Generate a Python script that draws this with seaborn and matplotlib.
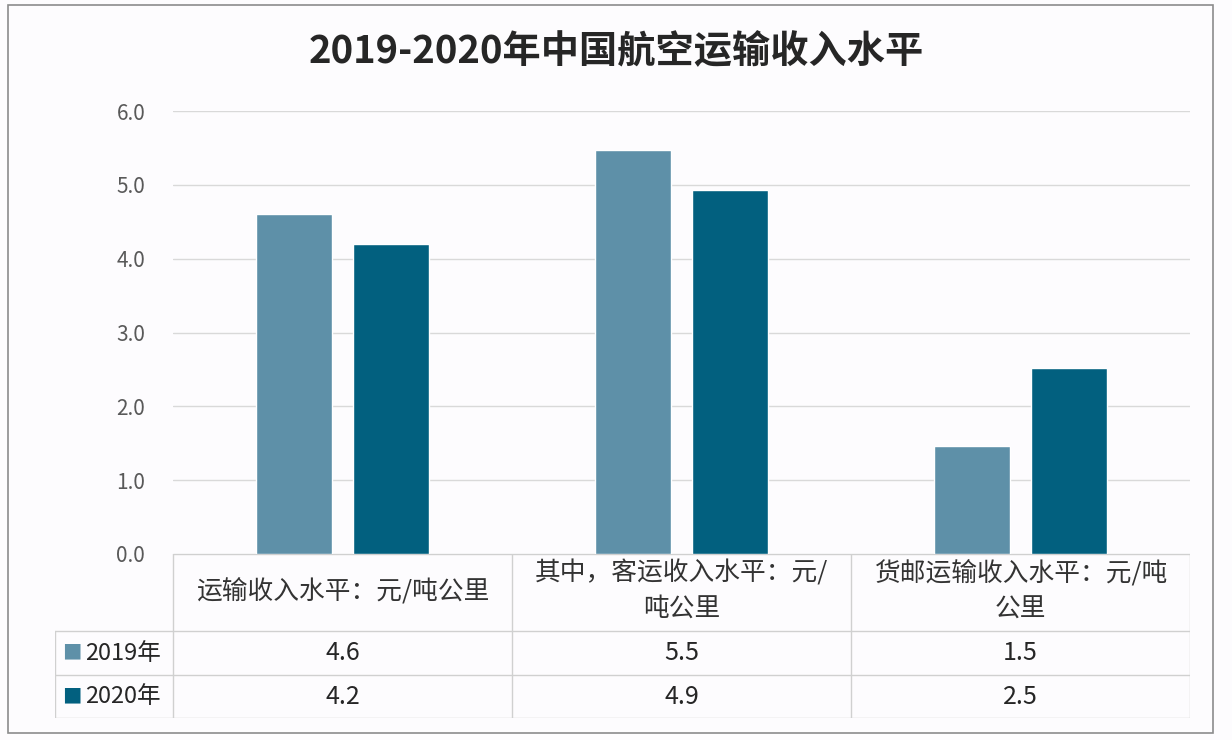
import matplotlib
matplotlib.use("Agg")
import matplotlib.pyplot as plt
import seaborn as sns
import pandas as pd
from matplotlib.patches import Rectangle

categories = ["运输收入水平：元/吨公里", "其中，客运收入水平：元/吨公里", "货邮运输收入水平：元/吨公里"]
header_labels = ["运输收入水平：元/吨公里", "其中，客运收入水平：元/\n吨公里", "货邮运输收入水平：元/吨\n公里"]
years = ["2019年", "2020年"]
values_2019 = [4.61, 5.47, 1.46]
values_2020 = [4.20, 4.93, 2.52]
colors = ["#5E90A8", "#02607F"]
title = "2019-2020年中国航空运输收入水平"

sns.set_theme(style="white")
plt.rcParams["font.family"] = ["Noto Sans CJK SC", "DejaVu Sans"]

W, H = 1232, 740
fig = plt.figure(figsize=(W / 100, H / 100), dpi=100)
fig.patch.set_facecolor("#FDFCFE")

def fx(px):
    return px / W

def fy(py):
    return 1 - py / H

# outer border
fig.add_artist(Rectangle((fx(8), fy(733)), fx(1213) - fx(8), fy(5) - fy(733),
                         transform=fig.transFigure, fill=False, edgecolor="#8C8C8C", lw=1.2))

ax = fig.add_axes([fx(173), fy(554), fx(1190) - fx(173), fy(111) - fy(554)])
ax.set_facecolor("none")

df = pd.DataFrame({
    "cat": categories * 2,
    "year": [years[0]] * 3 + [years[1]] * 3,
    "val": values_2019 + values_2020,
})
sns.barplot(data=df, x="cat", y="val", hue="year", palette=colors, width=0.576, gap=0.22,
            legend=False, ax=ax, saturation=1)
ax.set_xlim(-0.5, 2.5)
ax.set_ylim(0, 6)
ax.set_yticks([0, 1, 2, 3, 4, 5, 6])
ax.set_yticklabels([f"{v:.1f}" for v in range(0, 7)], fontsize=15, color="#595959")
ax.set_xticks([])
ax.set_xlabel("")
ax.set_ylabel("")
ax.yaxis.grid(True, color="#D9D9D9", lw=1)
ax.set_axisbelow(True)
for s in ax.spines.values():
    s.set_visible(False)
ax.tick_params(axis="y", length=0, pad=20)

fig.text(0.5, fy(52), title, ha="center", va="center", fontsize=27.5, fontweight="bold", color="#262626")

# table
tx0, tx1 = 55, 1190
tax = fig.add_axes([fx(tx0), fy(718), fx(tx1) - fx(tx0), fy(554) - fy(718)])
unit = (1190 - 173) / 3.0
xl = -0.5 - (173 - tx0) / unit
tax.set_xlim(xl, 2.5)
tax.set_ylim(164, 0)
tax.axis("off")
lc = "#D0D0D0"
rows = [0, 77, 121, 164]
tax.plot([-0.5, 2.5], [0, 0], color=lc, lw=1)
for y in rows[1:]:
    tax.plot([xl, 2.5], [y, y], color=lc, lw=1)
for x in [-0.5, 0.5, 1.5, 2.5]:
    tax.plot([x, x], [0, 164], color=lc, lw=1)
tax.plot([xl, xl], [77, 164], color=lc, lw=1)

for i, lab in enumerate(header_labels):
    tax.text(i, 37, lab, ha="center", va="center", fontsize=18.5, color="#333333", linespacing=1.5)
for r, (yr, vals) in enumerate(zip(years, [values_2019, values_2020])):
    yc = (rows[r + 1] + rows[r + 2]) / 2
    for i, v in enumerate(vals):
        tax.text(i, yc, f"{v:.1f}", ha="center", va="center", fontsize=18, color="#262626")
    tax.text(xl + 0.022, yc, "■", ha="left", va="center", fontsize=14, color=colors[r])
    tax.text(xl + 0.088, yc, yr, ha="left", va="center", fontsize=17, color="#262626")

fig.savefig("out.png", dpi=100, facecolor=fig.get_facecolor())
